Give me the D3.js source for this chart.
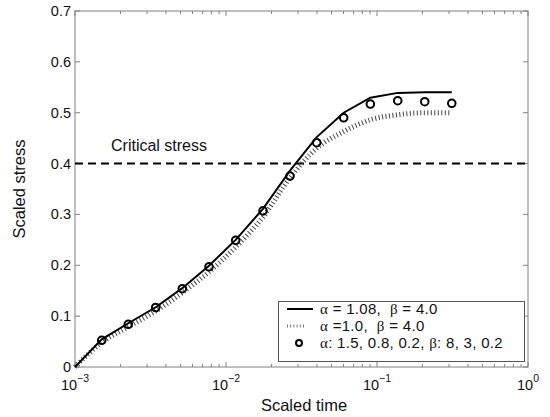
<!DOCTYPE html>
<html>
<head>
<meta charset="utf-8">
<script src="https://cdn.jsdelivr.net/npm/d3@7"></script>
<style>
  html, body { margin: 0; padding: 0; background: #fff; }
  svg { display: block; font-family: 'Liberation Sans', Arial, sans-serif; }
</style>
</head>
<body>
<div id="chart"></div>
<script>
// scaled time (x) shared by all series, first point is the origin of the curves
const timeVals = [0.001, 0.001503, 0.002254, 0.003423, 0.005135, 0.007717, 0.01159,
  0.01758, 0.02653, 0.03988, 0.06017, 0.09036, 0.1372, 0.2071, 0.3127];
const solidVals = [0, 0.0545, 0.086, 0.1175, 0.155, 0.199, 0.250, 0.311, 0.386,
  0.452, 0.500, 0.5295, 0.539, 0.540, 0.540];
const dottedVals = [0, 0.048, 0.079, 0.110, 0.146, 0.187, 0.236, 0.295, 0.372,
  0.430, 0.463, 0.486, 0.496, 0.500, 0.500];
// circles start at the second time value
const circleVals = [0.0525, 0.084, 0.117, 0.154, 0.197, 0.249, 0.307, 0.3755,
  0.441, 0.490, 0.517, 0.5236, 0.5217, 0.5185];
const criticalStress = 0.4;

const yTicks = [0, 0.1, 0.2, 0.3, 0.4, 0.5, 0.6, 0.7];
const xDecades = [-3, -2, -1, 0];

const W = 550, H = 417;
const margin = { top: 11, right: 22, bottom: 50, left: 75 };
const frame = '#808080';

const svg = d3.select('#chart').append('svg')
  .attr('width', W).attr('height', H);

const x = d3.scaleLog().domain([1e-3, 1]).range([margin.left, W - margin.right]);
const y = d3.scaleLinear().domain([0, 0.7]).range([H - margin.bottom, margin.top]);

const x0 = x.range()[0], x1 = x.range()[1];
const y0 = y.range()[0], y1 = y.range()[1];

// box
svg.append('rect')
  .attr('x', x0).attr('y', y1)
  .attr('width', x1 - x0).attr('height', y0 - y1)
  .attr('fill', 'none').attr('stroke', frame).attr('stroke-width', 1);

// y ticks, inside on both sides
yTicks.forEach(t => {
  const ty = y(t);
  svg.append('line').attr('x1', x0).attr('x2', x0 + 5).attr('y1', ty).attr('y2', ty)
    .attr('stroke', frame);
  svg.append('line').attr('x1', x1).attr('x2', x1 - 5).attr('y1', ty).attr('y2', ty)
    .attr('stroke', frame);
  svg.append('text')
    .attr('x', x0 - 4).attr('y', ty + 5)
    .attr('text-anchor', 'end')
    .style('font-size', '14.5px')
    .style('fill', '#111')
    .text(t === 0 ? '0' : t.toFixed(1));
});

// x ticks: majors at decades, minors 2..9
const minors = [];
for (let d = -3; d < 0; d++) {
  for (let m = 2; m <= 9; m++) minors.push(m * Math.pow(10, d));
}
minors.forEach(v => {
  const tx = x(v);
  svg.append('line').attr('x1', tx).attr('x2', tx).attr('y1', y0).attr('y2', y0 - 3)
    .attr('stroke', frame);
  svg.append('line').attr('x1', tx).attr('x2', tx).attr('y1', y1).attr('y2', y1 + 3)
    .attr('stroke', frame);
});
xDecades.forEach(d => {
  const tx = x(Math.pow(10, d));
  svg.append('line').attr('x1', tx).attr('x2', tx).attr('y1', y0).attr('y2', y0 - 5)
    .attr('stroke', frame);
  svg.append('line').attr('x1', tx).attr('x2', tx).attr('y1', y1).attr('y2', y1 + 5)
    .attr('stroke', frame);
  const lab = svg.append('text')
    .attr('x', tx).attr('y', y0 + 23)
    .attr('text-anchor', 'middle')
    .style('font-size', '14.5px')
    .style('fill', '#111');
  lab.append('tspan').text('10');
  lab.append('tspan').attr('dy', -8).style('font-size', '10.5px')
    .text(d < 0 ? '\u2212' + Math.abs(d) : String(d));
});

// axis labels
svg.append('text')
  .attr('x', 304).attr('y', H - 6)
  .attr('text-anchor', 'middle')
  .style('font-size', '16.5px').style('fill', '#111')
  .text('Scaled time');
svg.append('text')
  .attr('transform', `translate(25,${(y0 + y1) / 2}) rotate(-90)`)
  .attr('text-anchor', 'middle')
  .style('font-size', '16.5px').style('fill', '#111')
  .text('Scaled stress');

// critical stress
svg.append('line')
  .attr('x1', x0).attr('x2', x1)
  .attr('y1', y(criticalStress)).attr('y2', y(criticalStress))
  .attr('stroke', '#000').attr('stroke-width', 2)
  .attr('stroke-dasharray', '8,5');
svg.append('text')
  .attr('x', 111).attr('y', y(criticalStress) - 13)
  .style('font-size', '16px').style('fill', '#111')
  .text('Critical stress');

const solidData = timeVals.map((t, i) => [t, solidVals[i]]);
const dottedData = timeVals.map((t, i) => [t, dottedVals[i]]);
const circleData = timeVals.slice(1).map((t, i) => [t, circleVals[i]]);

const line = d3.line().x(d => x(d[0])).y(d => y(d[1]));

svg.append('path')
  .datum(dottedData)
  .attr('d', line.curve(d3.curveMonotoneX))
  .attr('fill', 'none')
  .attr('stroke', '#444')
  .attr('stroke-width', 5)
  .attr('stroke-dasharray', '1,2.5');

svg.append('path')
  .datum(solidData)
  .attr('d', d3.line().x(d => x(d[0])).y(d => y(d[1]))(solidData))
  .attr('fill', 'none')
  .attr('stroke', '#000')
  .attr('stroke-width', 2);

svg.selectAll('circle.pt')
  .data(circleData)
  .join('circle')
  .attr('class', 'pt')
  .attr('cx', d => x(d[0])).attr('cy', d => y(d[1]))
  .attr('r', 3.8)
  .attr('fill', 'none')
  .attr('stroke', '#000')
  .attr('stroke-width', 2);

// legend
const lg = svg.append('g');
lg.append('rect')
  .attr('x', 278.5).attr('y', 301.5).attr('width', 246).attr('height', 60)
  .attr('fill', '#fff').attr('stroke', '#555').attr('stroke-width', 1);

const greek = 'Liberation Serif, Times New Roman, serif';
const rows = [
  { kind: 'solid', parts: [['\u03b1', 1], [' = 1.08,  ', 0], ['\u03b2', 1], [' = 4.0', 0]] },
  { kind: 'dotted', parts: [['\u03b1', 1], [' =1.0,  ', 0], ['\u03b2', 1], [' = 4.0', 0]] },
  { kind: 'circle', parts: [['\u03b1', 1], [': 1.5, 0.8, 0.2, ', 0], ['\u03b2', 1], [': 8, 3, 0.2', 0]] },
];
rows.forEach((r, i) => {
  const cy = 309 + i * 17;
  if (r.kind === 'solid') {
    lg.append('line').attr('x1', 287).attr('x2', 313).attr('y1', cy).attr('y2', cy)
      .attr('stroke', '#000').attr('stroke-width', 2);
  } else if (r.kind === 'dotted') {
    lg.append('line').attr('x1', 287).attr('x2', 306).attr('y1', cy).attr('y2', cy)
      .attr('stroke', '#777').attr('stroke-width', 3).attr('stroke-dasharray', '1,2.2');
  } else {
    lg.append('circle').attr('cx', 299).attr('cy', cy).attr('r', 3)
      .attr('fill', 'none').attr('stroke', '#000').attr('stroke-width', 2);
  }
  const t = lg.append('text').attr('x', 320).attr('y', cy + 5)
    .style('font-size', '15px').style('fill', '#111').attr('xml:space', 'preserve')
    .style('letter-spacing', '0.3px');
  r.parts.forEach(p => {
    const s = t.append('tspan').text(p[0]);
    if (p[1]) s.style('font-family', greek).style('font-size', '15px');
  });
});
</script>
</body>
</html>
